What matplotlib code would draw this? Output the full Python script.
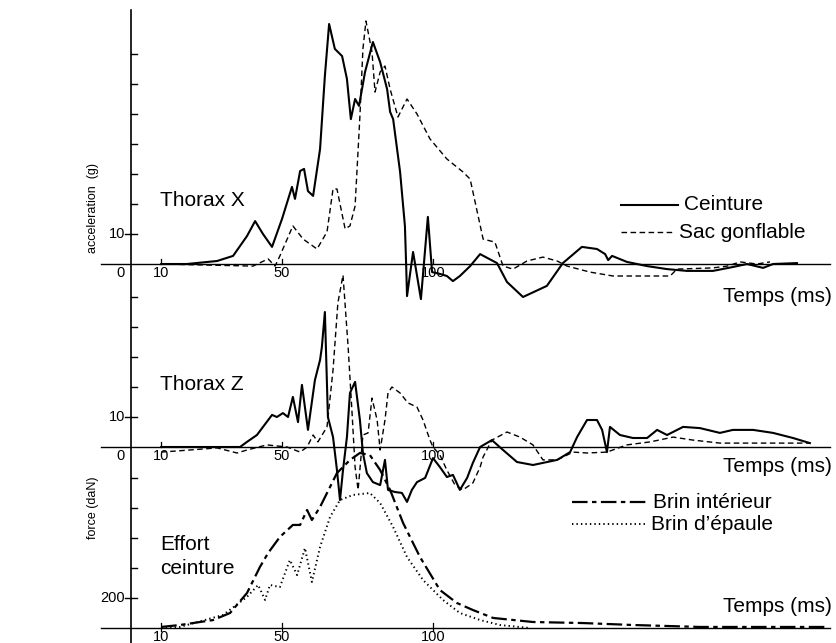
import matplotlib
matplotlib.use("Agg")
import matplotlib.pyplot as plt
from matplotlib.lines import Line2D

plt.rcParams['font.family'] = ['Liberation Sans', 'DejaVu Sans']

# ---- Thorax X (g) ----
tx_ceinture_t = [10, 18.5, 28.5, 33.8, 38.4, 41.1, 43.7, 46.7, 50.0, 53.3, 54.3, 56.0, 57.3, 58.6,
                 60.3, 62.6, 64.2, 65.6, 67.5, 69.9, 71.5, 72.8, 74.2, 75.5, 77.5, 80.1, 82.5,
                 84.8, 85.8, 86.8, 89.1, 90.7, 91.1, 91.4, 93.4, 96.0, 98.3, 99.7, 102.3, 104.6,
                 106.6, 108.9, 112.3, 115.6, 121.2, 124.5, 129.8, 137.7, 143.0, 149.3, 154.3,
                 157.0, 158.0, 159.3, 164.2, 170.9, 177.5, 184.1, 192.7, 199.3, 204.0, 209.3,
                 212.6, 220.5]
tx_ceinture_g = [0, 0, 1.0, 2.7, 9.3, 14.3, 10, 5.7, 15, 25.7, 21.7, 31, 31.7, 24.3,
                 22.7, 38.3, 62.7, 80, 71.7, 69.3, 61.7, 48.3, 55, 52.7, 64, 74, 67.3,
                 58.3, 50.7, 48.3, 30.7, 12.7, 0, -10.7, 4, -11.7, 15.7, -2.7, -3.3, -4,
                 -5.7, -4, -0.7, 3.3, 0.3, -6, -11, -7.3, 0.3, 5.7, 5,
                 3.3, 1.3, 2.7, 0.7, -0.7, -1.7, -2.3, -2.3, -1, 0, -1.3,
                 0, 0.3]

tx_sac_t = [10, 40.4, 45.4, 47.7, 49.3, 53.6, 57.0, 61.6, 64.9, 66.9, 68.2, 70.9, 72.5, 74.2,
            75.8, 76.8, 77.8, 79.8, 80.8, 82.5, 84.1, 85.8, 88.4, 91.4, 94.7, 99.0, 104.6,
            109.9, 112.3, 116.6, 120.5, 123.2, 126.5, 131.1, 136.4, 141.1, 144.4, 152.0,
            159.6, 170.9, 178.5, 180.8, 192.7, 197.4, 201.7, 207.3, 211.6]
tx_sac_g = [0, -0.7, 1.7, -0.7, 2.7, 12.7, 8.3, 5, 10.7, 25, 25, 11.7, 12.7, 19.3,
            49.3, 71.7, 81, 70.7, 57.3, 64, 66, 58.3, 49, 55, 50, 41.7, 35,
            30.7, 28.3, 8.3, 7.3, -0.7, -1.7, 1, 2.3, 1, -0.7, -2.7,
            -4, -4, -4, -1.7, -1.3, -0.7, 0.7, 0, 0.7]

# ---- Thorax Z (g) ----
tz_ceinture_t = [10, 36.1, 38.4, 41.7, 46.7, 48.3, 50.3, 52.0, 53.6, 55.3, 56.6, 58.6, 60.9,
                 62.6, 63.2, 64.2, 65.2, 66.9, 68.2, 69.2, 70.2, 71.5, 72.5, 74.2, 75.8, 76.8,
                 78.1, 80.1, 82.5, 84.1, 85.1, 87.4, 89.7, 91.4, 93.0, 94.7, 97.4, 100.0,
                 102.3, 104.6, 106.6, 108.9, 111.3, 113.2, 115.6, 119.5, 123.2, 127.8, 133.1,
                 141.1, 145.4, 147.7, 151.0, 154.3, 156.0, 157.6, 158.6, 161.9, 166.2, 170.9,
                 174.2, 177.5, 182.8, 188.4, 195.0, 199.3, 206.0, 212.6, 219.2, 224.8]
tz_ceinture_g = [0, 0, 1.7, 4, 10.7, 10, 11.3, 10, 16.7, 8.3, 20.7, 5.7, 22.3,
                 29, 33.3, 45, 10, 3.3, -7.7, -17.7, -7.7, 3.3, 18, 21.7, 9, -2,
                 -8.7, -11.7, -12.7, -4.3, -14.3, -15, -15.3, -18.3, -14.3, -11.7, -10.3, -3.7,
                 -6.7, -10, -9.3, -14.3, -10.3, -5.3, 0, 2.3, -1, -5, -6,
                 -4.3, -1.7, 3.3, 9, 9, 5.7, -1.7, 6.7, 4, 3, 3,
                 5.7, 4, 6.7, 6.3, 4.7, 5.7, 5.7, 4.7, 3, 1.3]

tz_sac_t = [10, 19.5, 28.5, 35.1, 38.4, 45.0, 51.7, 56.0, 58.3, 60.3, 61.9, 64.9, 66.9, 68.5,
            70.2, 71.9, 73.2, 74.2, 75.2, 76.8, 78.5, 79.8, 81.5, 82.5, 84.1, 85.1, 86.4,
            89.1, 91.7, 94.7, 96.7, 99.0, 100.0, 102.3, 104.6, 107.3, 109.9, 113.2, 115.6,
            116.6, 119.5, 124.5, 128.8, 133.1, 136.4, 141.1, 146.4, 151.0, 157.6, 164.2,
            171.9, 179.5, 186.1, 195.0, 205.0, 215.9, 224.8]
tz_sac_g = [-1.7, -1, -0.3, -2, -1, 0.7, 0, -1.7, 0, 4, 1.7, 6.7, 25.7, 48,
            57.3, 33.3, 11.3, -6.7, -14.3, 4, 4.7, 16.3, 9, -1, 9, 18, 20,
            18, 14.7, 13.3, 9, 2.3, 0, -2.7, -7.7, -12.7, -14.3, -12, -6.7,
            -3.3, 2.3, 5, 3.3, 0.7, -4.3, -4.3, -1.7, -2, -1.7, 0.7,
            1.7, 3.3, 2.3, 1.3, 1.3, 1.3, 1.3]

# ---- Effort ceinture (daN) ----
ef_int_t = [10, 16.2, 27.2, 32.8, 38.4, 42.7, 45.4, 49.3, 53.6, 56.0, 58.3, 59.9, 62.6, 68.2,
            72.5, 75.8, 79.1, 82.5, 85.8, 90.1, 95.7, 102.3, 107.9, 113.2, 119.9, 133.1,
            149.7, 166.2, 188.4, 230.5]
ef_int_f = [7, 20, 53, 100, 233, 407, 500, 607, 687, 687, 787, 720, 807, 1033,
            1120, 1167, 1153, 1053, 920, 700, 473, 253, 167, 120, 67, 40,
            33, 20, 7, 7]

ef_epa_t = [10, 16.2, 30.5, 38.4, 42.1, 44.4, 46.0, 49.3, 52.6, 55.0, 57.6, 59.9, 62.6, 65.9,
            69.2, 73.5, 79.1, 82.5, 86.8, 91.4, 96.7, 103.3, 108.9, 115.6, 122.2, 132.0]
ef_epa_f = [0, 7, 87, 207, 287, 187, 287, 273, 453, 353, 533, 307, 540, 740,
            853, 887, 900, 833, 673, 473, 320, 187, 100, 53, 20, 0]

time_ticks = [10, 50, 100]
g_ticks = [10, 20, 30, 40, 50, 60, 70]
gz_ticks = [10, 20, 30, 40, 50]
f_ticks = [200, 400, 600, 800, 1000]

W, H = 836, 643
X0, PX_MS = 131, 3.02          # pixel column of t=0, pixels per ms

fig = plt.figure(figsize=(W / 100, H / 100), dpi=100)


def panel(base_row, px_per_unit):
    ax = fig.add_axes([0, 0, 1, 1])
    ax.patch.set_alpha(0)
    ax.axis('off')
    ax.set_xlim(-X0 / PX_MS, (W - X0) / PX_MS)
    ax.set_ylim((base_row - H) / px_per_unit, base_row / px_per_unit)
    return ax


ax_x = panel(264, 3.0)
ax_z = panel(447, 3.0)
ax_f = panel(628, 0.15)

solid = dict(color='black', lw=1.5, solid_joinstyle='round')
dashed = dict(color='black', lw=1.0, linestyle=(0, (4, 2.5)))

ax_x.plot(tx_ceinture_t, tx_ceinture_g, **solid, clip_on=False)
ax_x.plot(tx_sac_t, tx_sac_g, **dashed, clip_on=False)
ax_z.plot(tz_ceinture_t, tz_ceinture_g, **solid, clip_on=False)
ax_z.plot(tz_sac_t, tz_sac_g, **dashed, clip_on=False)
ax_f.plot(ef_int_t, ef_int_f, color='black', lw=1.6, linestyle=(0, (7, 2, 2, 2)))
ax_f.plot(ef_epa_t, ef_epa_f, color='black', lw=1.4, linestyle=(0, (0.7, 1.6)))

# baselines, time ticks
tx_end = (830 - X0) / PX_MS
panels = [(ax_x, 3.0, -10, True), (ax_z, 3.0, -10, True), (ax_f, 0.15, -10, False)]
for ax, unit, start, zero in panels:
    ax.plot([start, tx_end], [0, 0], color='black', lw=1.0)
    for t in time_ticks:
        ax.plot([t, t], [-3 / unit if not zero else 0, 5 / unit], color='black', lw=0.9)
        ax.text(t, -2 / unit, str(t), ha='center', va='top', fontsize=10.5)
    if zero:
        ax.text(-2, -2 / unit, '0', ha='right', va='top', fontsize=10.5)

# vertical axis
ax_x.axvline(0, ymin=0, ymax=1 - 10 / H, color='black', lw=1.2)
for t_g in g_ticks:
    ax_x.plot([0, 2], [t_g, t_g], color='black', lw=1.0)
for t_g in gz_ticks:
    ax_z.plot([0, 2], [t_g, t_g], color='black', lw=1.0)
for t_f in f_ticks:
    ax_f.plot([0, 2], [t_f, t_f], color='black', lw=1.0)
ax_x.plot([-2, 0], [10, 10], color='black', lw=1.0)
ax_z.plot([-2, 0], [10, 10], color='black', lw=1.0)
ax_f.plot([-2, 0], [200, 200], color='black', lw=1.0)
ax_x.text(-2, 10, '10', ha='right', va='center', fontsize=10.5)
ax_z.text(-2, 10, '10', ha='right', va='center', fontsize=10.5)
ax_f.text(-2, 200, '200', ha='right', va='center', fontsize=10.5)

# labels


def ftext(x, y, s, **kw):
    fig.text(x / W, 1 - y / H, s, **kw)


ftext(160, 200, 'Thorax X', fontsize=15, va='center')
ftext(160, 385, 'Thorax Z', fontsize=15, va='center')
ftext(160, 545, 'Effort', fontsize=15, va='center')
ftext(160, 568, 'ceinture', fontsize=15, va='center')
for yy in (296, 466, 607):
    ftext(832, yy, 'Temps (ms)', fontsize=15, ha='right', va='center')
ftext(93, 208, 'acceleration  (g)', fontsize=9, rotation=90, ha='center', va='center')
ftext(93, 508, 'force (daN)', fontsize=9, rotation=90, ha='center', va='center')

# legends
legend_items = [
    (205, 621, 678, 'Ceinture', dict(lw=1.5, linestyle='-')),
    (232, 621, 673, 'Sac gonflable', dict(lw=1.0, linestyle=(0, (4, 2.5)))),
    (502, 572, 647, 'Brin intérieur', dict(lw=1.6, linestyle=(0, (7, 2, 2, 2)))),
    (524, 572, 645, "Brin d\u2019épaule", dict(lw=1.4, linestyle=(0, (0.7, 1.6)))),
]
for yy, xa, xb, label, style in legend_items:
    fig.add_artist(Line2D([xa / W, xb / W], [1 - yy / H, 1 - yy / H], color='black',
                          transform=fig.transFigure, **style))
    ftext(xb + 6, yy, label, fontsize=15, va='center')

fig.savefig('out.png', dpi=100, facecolor='white')
